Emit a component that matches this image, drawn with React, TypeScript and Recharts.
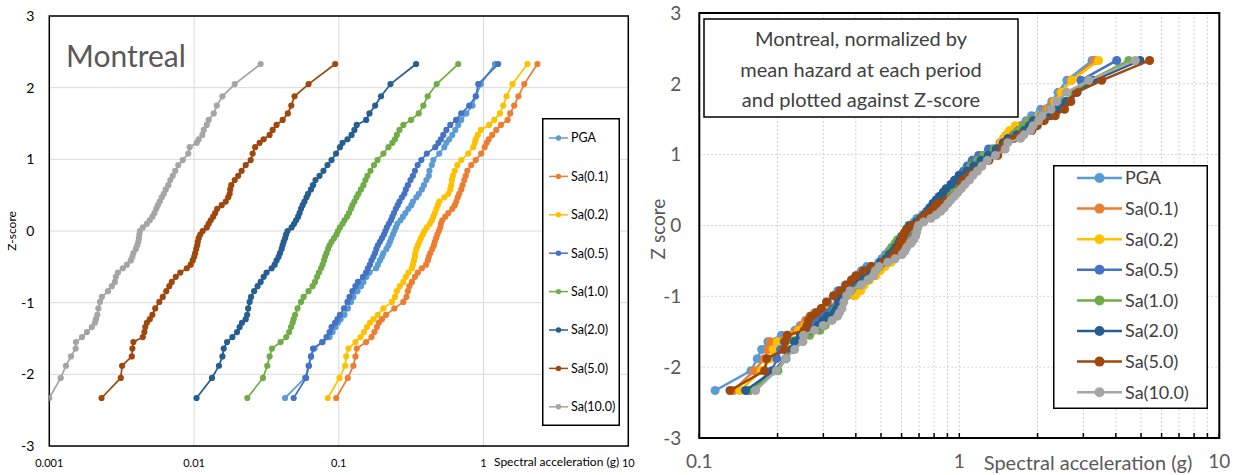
import React from "react";
import {
  ScatterChart,
  Scatter,
  XAxis,
  YAxis,
  CartesianGrid,
  ReferenceArea,
  Legend,
} from "recharts";

const FONT = "Lato, 'Liberation Sans', sans-serif";

const SERIES_NAMES = ["PGA", "Sa(0.1)", "Sa(0.2)", "Sa(0.5)", "Sa(1.0)", "Sa(2.0)", "Sa(5.0)", "Sa(10.0)"];
const SERIES_COLORS = ["#5B9BD5", "#ED7D31", "#FFC000", "#4472C4", "#70AD47", "#255E91", "#9E480E", "#A5A5A5"];

// Z-score of each plotted rank (shared by all series)
const Z_SCORES = [
  -2.33, -2.05, -1.88, -1.75, -1.64, -1.55, -1.48, -1.41, -1.34, -1.28, -1.23, -1.17,
  -1.08, -0.99, -0.92, -0.84, -0.77, -0.71, -0.64, -0.58, -0.52, -0.47, -0.41, -0.36, -0.31,
  -0.25, -0.2, -0.15, -0.1, -0.05, 0, 0.05, 0.1, 0.15, 0.2, 0.25, 0.31, 0.36, 0.41, 0.47,
  0.52, 0.58, 0.64, 0.71, 0.77, 0.84, 0.92, 0.99, 1.08,
  1.17, 1.23, 1.28, 1.34, 1.41, 1.48, 1.55, 1.64, 1.75, 1.88, 2.05, 2.33,
];

// log10 of spectral acceleration (g) at each Z-score
const PGA_LOG = [
  -1.371, -1.233, -1.209, -1.192, -1.168, -1.116, -1.064, -1.043, -1.023, -1.006, -0.988, -0.961,
  -0.937, -0.916, -0.899, -0.871, -0.847, -0.83, -0.809, -0.788, -0.742, -0.73, -0.716, -0.702, -0.692,
  -0.671, -0.657, -0.647, -0.637, -0.626, -0.616, -0.606, -0.595, -0.574, -0.557, -0.54, -0.519, -0.499,
  -0.488, -0.464, -0.447, -0.426, -0.412, -0.395, -0.378, -0.374, -0.357, -0.347, -0.306,
  -0.271, -0.257, -0.237, -0.216, -0.195, -0.175, -0.154, -0.119, -0.076, -0.052, -0.018, 0.079,
];
const SA01_LOG = [
  -1.018, -0.938, -0.899, -0.885, -0.876, -0.811, -0.774, -0.754, -0.737, -0.723, -0.702, -0.673,
  -0.616, -0.554, -0.533, -0.523, -0.512, -0.495, -0.474, -0.454, -0.426, -0.397, -0.385, -0.378, -0.368,
  -0.354, -0.343, -0.337, -0.328, -0.319, -0.309, -0.299, -0.295, -0.285, -0.264, -0.243, -0.216, -0.199,
  -0.188, -0.178, -0.168, -0.154, -0.145, -0.133, -0.123, -0.112, -0.085, -0.054, -0.016,
  0.008, 0.022, 0.036, 0.06, 0.088, 0.12, 0.166, 0.184, 0.212, 0.241, 0.281, 0.372,
];
const SA02_LOG = [
  -1.076, -0.995, -0.956, -0.949, -0.933, -0.885, -0.85, -0.826, -0.806, -0.785, -0.761, -0.731,
  -0.692, -0.633, -0.612, -0.599, -0.578, -0.554, -0.537, -0.519, -0.495, -0.488, -0.481, -0.474, -0.471,
  -0.464, -0.454, -0.443, -0.433, -0.419, -0.409, -0.392, -0.371, -0.357, -0.347, -0.337, -0.326, -0.316,
  -0.306, -0.271, -0.243, -0.23, -0.223, -0.219, -0.212, -0.199, -0.181, -0.154, -0.106,
  -0.071, -0.061, -0.054, -0.04, -0.018, 0.039, 0.074, 0.113, 0.136, 0.159, 0.2, 0.303,
];
const SA05_LOG = [
  -1.312, -1.226, -1.206, -1.192, -1.178, -1.112, -1.085, -1.064, -1.05, -1.026, -1.009, -0.992,
  -0.964, -0.94, -0.926, -0.906, -0.885, -0.868, -0.833, -0.812, -0.799, -0.785, -0.774, -0.761, -0.75,
  -0.74, -0.73, -0.716, -0.702, -0.688, -0.678, -0.668, -0.654, -0.64, -0.63, -0.619, -0.606, -0.593,
  -0.581, -0.564, -0.547, -0.537, -0.523, -0.505, -0.488, -0.474, -0.455, -0.43, -0.392,
  -0.333, -0.312, -0.295, -0.278, -0.257, -0.23, -0.19, -0.154, -0.099, -0.054, -0.037, 0.101,
];
const SA10_LOG = [
  -1.632, -1.524, -1.494, -1.478, -1.462, -1.402, -1.363, -1.343, -1.33, -1.319, -1.312, -1.302,
  -1.285, -1.261, -1.243, -1.209, -1.181, -1.164, -1.15, -1.137, -1.123, -1.112, -1.102, -1.095, -1.085,
  -1.074, -1.064, -1.05, -1.033, -1.016, -1.006, -0.992, -0.974, -0.961, -0.943, -0.93, -0.916, -0.906,
  -0.892, -0.878, -0.864, -0.847, -0.83, -0.816, -0.802, -0.781, -0.757, -0.733, -0.692,
  -0.657, -0.63, -0.612, -0.599, -0.581, -0.554, -0.501, -0.448, -0.416, -0.386, -0.324, -0.175,
];
const SA20_LOG = [
  -1.983, -1.876, -1.828, -1.804, -1.795, -1.772, -1.735, -1.703, -1.685, -1.669, -1.643, -1.633,
  -1.626, -1.616, -1.606, -1.585, -1.561, -1.54, -1.519, -1.499, -1.464, -1.443, -1.43, -1.416, -1.406,
  -1.395, -1.388, -1.381, -1.371, -1.364, -1.354, -1.326, -1.309, -1.295, -1.281, -1.271, -1.261, -1.25,
  -1.237, -1.223, -1.212, -1.192, -1.178, -1.161, -1.133, -1.106, -1.078, -1.05, -1.019,
  -0.992, -0.974, -0.94, -0.912, -0.892, -0.876, -0.811, -0.788, -0.749, -0.708, -0.643, -0.466,
];
const SA50_LOG = [
  -2.639, -2.506, -2.497, -2.43, -2.426, -2.419, -2.354, -2.343, -2.337, -2.326, -2.306, -2.288,
  -2.268, -2.24, -2.216, -2.192, -2.171, -2.154, -2.126, -2.095, -2.05, -2.023, -2.009, -1.999, -1.992,
  -1.985, -1.978, -1.974, -1.968, -1.957, -1.94, -1.912, -1.899, -1.885, -1.868, -1.854, -1.84, -1.809,
  -1.781, -1.764, -1.754, -1.75, -1.743, -1.719, -1.695, -1.671, -1.643, -1.609, -1.595,
  -1.578, -1.547, -1.519, -1.478, -1.457, -1.43, -1.388, -1.352, -1.328, -1.306, -1.209, -1.025,
];
const SA100_LOG = [
  -3.0, -2.921, -2.885, -2.85, -2.818, -2.816, -2.774, -2.74, -2.706, -2.685, -2.678, -2.668,
  -2.661, -2.65, -2.637, -2.595, -2.568, -2.547, -2.54, -2.526, -2.492, -2.464, -2.437, -2.426, -2.419,
  -2.402, -2.392, -2.385, -2.381, -2.378, -2.374, -2.354, -2.326, -2.306, -2.288, -2.274, -2.261, -2.25,
  -2.237, -2.223, -2.209, -2.195, -2.178, -2.164, -2.147, -2.13, -2.109, -2.078, -2.04,
  -2.03, -1.981, -1.968, -1.943, -1.933, -1.912, -1.899, -1.864, -1.843, -1.804, -1.719, -1.54,
];

// mean hazard (g) at each period, used for the normalized plot
const MEAN_HAZARD = [0.37, 0.71, 0.585, 0.313, 0.149, 0.069, 0.0175, 0.00607];

const LEFT_X_TICKS = [0.001, 0.01, 0.1, 1, 10];
const RIGHT_X_TICKS = [0.1, 0.2, 0.3, 0.4, 0.5, 0.6, 0.7, 0.8, 0.9, 1, 2, 3, 4, 5, 6, 7, 8, 9, 10];
const RIGHT_X_LABELS = [0.1, 1, 10];
const Z_TICKS = [-3, -2, -1, 0, 1, 2, 3];

const LOG_VALUES = [PGA_LOG, SA01_LOG, SA02_LOG, SA05_LOG, SA10_LOG, SA20_LOG, SA50_LOG, SA100_LOG];

const SERIES = SERIES_NAMES.map((name, i) => ({
  name,
  color: SERIES_COLORS[i],
  raw: Z_SCORES.map((z, k) => ({ x: 10 ** LOG_VALUES[i][k], z })),
  norm: Z_SCORES.map((z, k) => ({ x: 10 ** LOG_VALUES[i][k] / MEAN_HAZARD[i], z })),
}));

const dotShape = (r: number, color: string) => (p: any) =>
  <circle cx={p.cx} cy={p.cy} r={r} fill={color} />;

interface LegendBoxProps {
  width: number;
  height: number;
  rowTop: number;
  rowGap: number;
  x1: number;
  x2: number;
  textX: number;
  fontSize: number;
  dotR: number;
  lineW: number;
  textColor: string;
}

function LegendBox(p: LegendBoxProps) {
  return (
    <svg width={p.width} height={p.height} style={{ display: "block" }}>
      <rect x={0.75} y={0.75} width={p.width - 1.5} height={p.height - 1.5} fill="#fff" stroke="#000" strokeWidth={1.5} />
      {SERIES.map((s, i) => {
        const y = p.rowTop + i * p.rowGap;
        return (
          <g key={s.name}>
            <line x1={p.x1} x2={p.x2} y1={y} y2={y} stroke={s.color} strokeWidth={p.lineW} />
            <circle cx={(p.x1 + p.x2) / 2} cy={y} r={p.dotR} fill={s.color} />
            <text x={p.textX} y={y} dy="0.35em" fontSize={p.fontSize} fontFamily={FONT} fill={p.textColor}>
              {s.name}
            </text>
          </g>
        );
      })}
    </svg>
  );
}

function LeftChart() {
  return (
    <ScatterChart width={640} height={475} margin={{ top: 16, right: 11.7, bottom: 0, left: 0 }}>
      <CartesianGrid stroke="#d9d9d9" />
      <XAxis
        type="number"
        dataKey="x"
        scale="log"
        domain={[0.001, 10]}
        ticks={LEFT_X_TICKS}
        interval={0}
        height={29}
        tickLine={false}
        tickSize={0}
        tickMargin={13}
        axisLine={false}
        allowDataOverflow
        tick={{ fontSize: 11, fill: "#000", fontFamily: FONT }}
        tickFormatter={(v: number) => String(v)}
      />
      <YAxis
        type="number"
        dataKey="z"
        domain={[-3, 3]}
        ticks={Z_TICKS}
        interval={0}
        width={49.3}
        tickLine={false}
        tickSize={0}
        tickMargin={15}
        axisLine={false}
        tick={{ fontSize: 14, fill: "#000", fontFamily: FONT }}
      />
      <ReferenceArea x1={0.001} x2={10} y1={-3} y2={3} fill="none" stroke="#000" strokeWidth={1.5} />
      {SERIES.map((s) => (
        <Scatter
          key={s.name}
          name={s.name}
          data={s.raw}
          fill={s.color}
          line={{ stroke: s.color, strokeWidth: 1.75 }}
          lineType="joint"
          shape={dotShape(3.1, s.color)}
          isAnimationActive={false}
        />
      ))}
      <Legend
        layout="vertical"
        align="center"
        verticalAlign="middle"
        wrapperStyle={{ left: 542, top: 118, width: 78, height: 308 }}
        content={() => (
          <LegendBox width={78} height={308} rowTop={20} rowGap={38.4} x1={7} x2={26} textX={29}
            fontSize={12.5} dotR={2.7} lineW={1.5} textColor="#000" />
        )}
      />
    </ScatterChart>
  );
}

function RightChart() {
  return (
    <ScatterChart width={593} height={475} margin={{ top: 13, right: 13.7, bottom: 0, left: 0 }}>
      <CartesianGrid stroke="#d4cddc" strokeDasharray="2 2" />
      <XAxis
        type="number"
        dataKey="x"
        scale="log"
        domain={[0.1, 10]}
        ticks={RIGHT_X_TICKS}
        interval={0}
        height={37}
        tickSize={-5}
        tickMargin={22}
        tickLine={{ stroke: "#000", strokeWidth: 1.5 }}
        axisLine={false}
        allowDataOverflow
        tick={{ fontSize: 19, fill: "#595959", fontFamily: FONT }}
        tickFormatter={(v: number) => (RIGHT_X_LABELS.includes(v) ? String(v) : "")}
      />
      <YAxis
        type="number"
        dataKey="z"
        domain={[-3, 3]}
        ticks={Z_TICKS}
        interval={0}
        width={59.3}
        tickLine={false}
        tickSize={0}
        tickMargin={18}
        axisLine={false}
        tick={{ fontSize: 19, fill: "#595959", fontFamily: FONT }}
      />
      <ReferenceArea x1={0.1} x2={10} y1={-3} y2={3} fill="none" stroke="#000" strokeWidth={2} />
      {SERIES.map((s) => (
        <Scatter
          key={s.name}
          name={s.name}
          data={s.norm}
          fill={s.color}
          line={{ stroke: s.color, strokeWidth: 2.5 }}
          lineType="joint"
          shape={dotShape(4.5, s.color)}
          isAnimationActive={false}
        />
      ))}
      <Legend
        layout="vertical"
        align="center"
        verticalAlign="middle"
        wrapperStyle={{ left: 413, top: 165, width: 155, height: 244 }}
        content={() => (
          <LegendBox width={155} height={244} rowTop={13} rowGap={30.6} x1={24} x2={69} textX={72}
            fontSize={18} dotR={5} lineW={2.5} textColor="#404040" />
        )}
      />
    </ScatterChart>
  );
}

export default function App() {
  return (
    <div style={{ position: "absolute", left: 0, top: 0, width: 1233, height: 475, background: "#fff", overflow: "hidden" }}>
      <div style={{ position: "absolute", left: 0, top: 0 }}>
        <LeftChart />
      </div>
      <div style={{ position: "absolute", left: 640, top: 0 }}>
        <RightChart />
      </div>
      <svg width={1233} height={475} style={{ position: "absolute", left: 0, top: 0, pointerEvents: "none" }}>
        <text x={66} y={67} fontSize={30} fontFamily={FONT} fill="#595959">Montreal</text>
        <text x={12} y={231} dy="0.35em" fontSize={12} fontFamily={FONT} fill="#000" textAnchor="middle"
          transform="rotate(-90 12 231)">Z-score</text>
        <text x={494} y={462} dy="0.35em" fontSize={12} fontFamily={FONT} fill="#000">Spectral acceleration (g)</text>

        <rect x={704} y={19} width={314} height={98} fill="#fff" stroke="#000" strokeWidth={1.5} />
        <text x={861} y={39} dy="0.35em" fontSize={20} fontFamily={FONT} fill="#404040" textAnchor="middle">Montreal, normalized by</text>
        <text x={861} y={70} dy="0.35em" fontSize={20} fontFamily={FONT} fill="#404040" textAnchor="middle">mean hazard at each period</text>
        <text x={861} y={100} dy="0.35em" fontSize={20} fontFamily={FONT} fill="#404040" textAnchor="middle">and plotted against Z-score</text>
        <text x={658} y={229} dy="0.35em" fontSize={19} fontFamily={FONT} fill="#595959" textAnchor="middle"
          transform="rotate(-90 658 229)">Z score</text>
        <text x={1088} y={463} dy="0.35em" fontSize={20} fontFamily={FONT} fill="#595959" textAnchor="middle">Spectral acceleration (g)</text>
      </svg>
    </div>
  );
}
